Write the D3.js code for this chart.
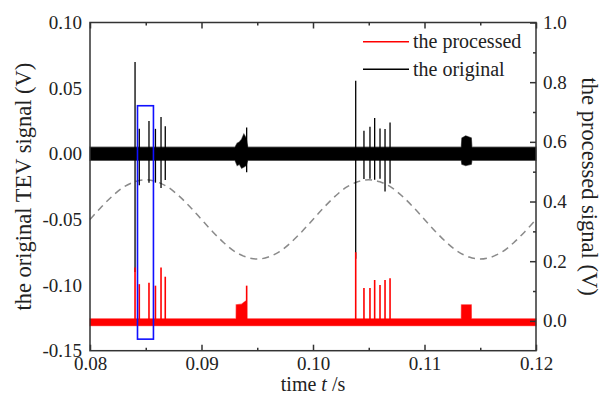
<!DOCTYPE html>
<html><head><meta charset="utf-8">
<script src="https://cdn.jsdelivr.net/npm/d3@7"></script>
<style>
html,body{margin:0;padding:0;background:#fff;}
svg text{font-family:"Liberation Serif","Times New Roman",serif;fill:#222;}
</style></head>
<body>
<script>
// ---- data ----
const xTicks = [0.08, 0.09, 0.10, 0.11, 0.12];
const xMinor = [0.085, 0.095, 0.105, 0.115];
const leftTicks = [0.10, 0.05, 0.00, -0.05, -0.10, -0.15];
const rightTicks = [0.0, 0.2, 0.4, 0.6, 0.8, 1.0];
const rightMinor = [0.1, 0.3, 0.5, 0.7, 0.9];

// original TEV signal (left axis, V): discharge spikes
const origSpikeT   = [0.08404, 0.08442, 0.08529, 0.08587, 0.08637, 0.08675, 0.09405, 0.10383, 0.10457, 0.10511, 0.10553, 0.10601, 0.10646, 0.10691];
const origSpikeMax = [0.070, 0.019, 0.025, 0.019, 0.028, 0.021, 0.020, 0.0556, 0.0175, 0.0206, 0.0272, 0.0193, 0.0188, 0.0239];
const origSpikeMin = [-0.090, -0.024, -0.022, -0.022, -0.026, -0.020, -0.014, -0.080, -0.0193, -0.019, -0.0198, -0.019, -0.0287, -0.0226];
// original noise-band envelope
const origBandT     = [0.080, 0.0930, 0.0932, 0.0934, 0.0936, 0.0938, 0.0940, 0.09415, 0.1133, 0.11335, 0.1137, 0.1142, 0.11425, 0.120];
const origBandUpper = [0.005, 0.005, 0.008, 0.009, 0.011, 0.015, 0.012, 0.005, 0.005, 0.012, 0.0137, 0.012, 0.005, 0.005];
const origBandLower = [-0.005, -0.005, -0.009, -0.008, -0.011, -0.010, -0.009, -0.005, -0.005, -0.008, -0.009, -0.008, -0.005, -0.005];

// processed signal (right axis, V)
const procSpikeT   = [0.08404, 0.08442, 0.08529, 0.08587, 0.08637, 0.08675, 0.09405, 0.10383, 0.10457, 0.10511, 0.10553, 0.10601, 0.10646, 0.10691];
const procSpikeMax = [0.179, 0.123, 0.128, 0.118, 0.179, 0.148, 0.118, 0.230, 0.110, 0.110, 0.137, 0.120, 0.137, 0.143];
const procBandT     = [0.080, 0.0931, 0.09311, 0.0936, 0.0938, 0.0940, 0.09401, 0.1133, 0.11331, 0.1142, 0.11421, 0.120];
const procBandUpper = [0.007, 0.007, 0.054, 0.056, 0.062, 0.067, 0.007, 0.007, 0.054, 0.054, 0.007, 0.007];
const procBandLower = [-0.016, -0.016, -0.016, -0.016, -0.016, -0.016, -0.016, -0.016, -0.016, -0.016, -0.016, -0.016];

// reference power-frequency phase (right axis), sampled every 1 ms
const phaseT = d3.range(41).map(i => 0.080 + i * 0.001);
const phaseV = [0.340,0.381,0.418,0.448,0.466,0.473,0.466,0.448,0.418,0.381,
                0.340,0.299,0.262,0.232,0.214,0.207,0.214,0.232,0.262,0.299,
                0.340,0.381,0.418,0.448,0.466,0.473,0.466,0.448,0.418,0.381,
                0.340,0.299,0.262,0.232,0.214,0.207,0.214,0.232,0.262,0.299,0.340];

// highlight box (time, left-axis V)
const boxT = [0.08426, 0.08569];
const boxV = [0.0366, -0.1412];

const legendLabels = ["the processed", "the original"];
const legendColors = ["#ff0000", "#000000"];

// ---- chart ----
const W = 601, H = 397;
const m = {left: 90, right: 65, top: 22.5, bottom: 46.3};
const svg = d3.select("body").append("svg").attr("width", W).attr("height", H);

const x = d3.scaleLinear().domain([0.08, 0.12]).range([m.left, W - m.right]);
const yL = d3.scaleLinear().domain([-0.15, 0.10]).range([H - m.bottom, m.top]);
const yR = d3.scaleLinear().domain([-0.1, 1.0]).range([H - m.bottom, m.top]);

const plot = svg.append("g");

// dashed phase curve
plot.append("path")
  .datum(phaseT.map((t, i) => [t, phaseV[i]]))
  .attr("fill", "none").attr("stroke", "#8a8a8a").attr("stroke-width", 1.5)
  .attr("stroke-dasharray", "7,5")
  .attr("d", d3.line().x(d => x(d[0])).y(d => yR(d[1])).curve(d3.curveCatmullRom));

// original band
plot.append("path")
  .datum(origBandT.map((t, i) => [t, origBandUpper[i], origBandLower[i]]))
  .attr("fill", "#000").attr("stroke", "#000").attr("stroke-width", 1.2).attr("stroke-opacity", 0.55)
  .attr("d", d3.area().x(d => x(d[0])).y0(d => yL(d[2])).y1(d => yL(d[1])));

// original spikes
plot.selectAll("line.os").data(origSpikeT).join("line").attr("class", "os")
  .attr("x1", d => x(d)).attr("x2", d => x(d))
  .attr("y1", (d, i) => yL(origSpikeMax[i])).attr("y2", (d, i) => yL(origSpikeMin[i]))
  .attr("stroke", "#000").attr("stroke-width", 1.3);

// processed band
plot.append("path")
  .datum(procBandT.map((t, i) => [t, procBandUpper[i], procBandLower[i]]))
  .attr("fill", "#ff0000").attr("stroke", "#ff0000").attr("stroke-width", 1.2).attr("stroke-opacity", 0.5)
  .attr("d", d3.area().x(d => x(d[0])).y0(d => yR(d[2])).y1(d => yR(d[1])));

// processed spikes
plot.selectAll("line.ps").data(procSpikeT).join("line").attr("class", "ps")
  .attr("x1", d => x(d)).attr("x2", d => x(d))
  .attr("y1", (d, i) => yR(procSpikeMax[i])).attr("y2", yR(0))
  .attr("stroke", "#ff0000").attr("stroke-width", 1.6);

// highlight box
plot.append("rect")
  .attr("x", x(boxT[0])).attr("y", yL(boxV[0]))
  .attr("width", x(boxT[1]) - x(boxT[0])).attr("height", yL(boxV[1]) - yL(boxV[0]))
  .attr("fill", "none").attr("stroke", "#1010ff").attr("stroke-width", 1.6);

// frame
const axCol = "#333";
svg.append("rect").attr("x", m.left).attr("y", m.top)
  .attr("width", W - m.right - m.left).attr("height", H - m.bottom - m.top)
  .attr("fill", "none").attr("stroke", axCol).attr("stroke-width", 1.5);

// bottom axis
const gB = svg.append("g").attr("transform", `translate(0,${H - m.bottom})`)
  .call(d3.axisBottom(x).tickValues(xTicks).tickFormat(d3.format(".2f")).tickSizeInner(-6).tickSizeOuter(0).tickPadding(6));
const gBm = svg.append("g").attr("transform", `translate(0,${H - m.bottom})`)
  .call(d3.axisBottom(x).tickValues(xMinor).tickFormat("").tickSizeInner(-3).tickSizeOuter(0));
// top axis (mirror ticks)
const gT = svg.append("g").attr("transform", `translate(0,${m.top})`)
  .call(d3.axisTop(x).tickValues(xTicks).tickFormat("").tickSizeInner(-6).tickSizeOuter(0));
const gTm = svg.append("g").attr("transform", `translate(0,${m.top})`)
  .call(d3.axisTop(x).tickValues(xMinor).tickFormat("").tickSizeInner(-3).tickSizeOuter(0));
// left axis (labels only)
const gL = svg.append("g").attr("transform", `translate(${m.left},0)`)
  .call(d3.axisLeft(yL).tickValues(leftTicks).tickFormat(d => d3.format(".2f")(d).replace("\u2212", "-")).tickSizeInner(0).tickSizeOuter(0).tickPadding(8));
// right axis
const gR = svg.append("g").attr("transform", `translate(${W - m.right},0)`)
  .call(d3.axisRight(yR).tickValues(rightTicks).tickFormat(d3.format(".1f")).tickSizeInner(-6).tickSizeOuter(0).tickPadding(7));
const gRm = svg.append("g").attr("transform", `translate(${W - m.right},0)`)
  .call(d3.axisRight(yR).tickValues(rightMinor).tickFormat("").tickSizeInner(-3).tickSizeOuter(0));

[gB, gBm, gT, gTm, gL, gR, gRm].forEach(g => {
  g.select(".domain").remove();
  g.selectAll(".tick line").attr("stroke", axCol).attr("stroke-width", 1.5);
  g.selectAll(".tick text").attr("font-family", "Liberation Serif").attr("font-size", 19).attr("fill", "#222");
});

// axis titles
svg.append("text").attr("transform", `translate(31,${(m.top + H - m.bottom) / 2}) rotate(-90)`)
  .attr("text-anchor", "middle").attr("font-size", 22.5).text("the original TEV signal (V)");
svg.append("text").attr("transform", `translate(582,${(m.top + H - m.bottom) / 2}) rotate(90)`)
  .attr("text-anchor", "middle").attr("font-size", 22.5).text("the processed signal (V)");
const xt = svg.append("text").attr("x", x(0.10)).attr("y", 391).attr("text-anchor", "middle").attr("font-size", 20);
xt.append("tspan").text("time ");
xt.append("tspan").attr("font-style", "italic").text("t");
xt.append("tspan").text(" /s");

// legend
const lg = svg.append("g");
legendLabels.forEach((lab, i) => {
  const yy = 41.7 + i * 27.5;
  lg.append("line").attr("x1", 363).attr("x2", 409).attr("y1", yy).attr("y2", yy)
    .attr("stroke", legendColors[i]).attr("stroke-width", 1.5);
  lg.append("text").attr("x", 413).attr("y", yy + 6.5).attr("font-size", 20).text(lab);
});
</script>
</body></html>
